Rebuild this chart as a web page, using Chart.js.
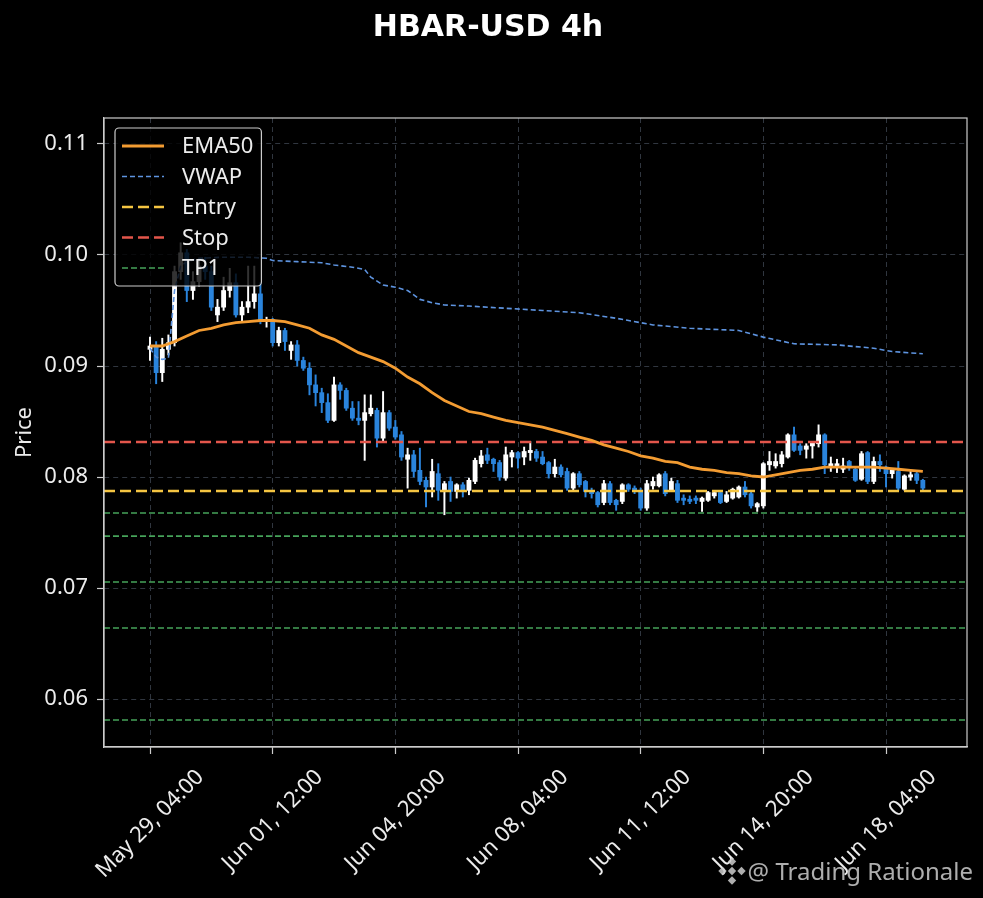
<!DOCTYPE html>
<html>
<head>
<meta charset="utf-8">
<title>HBAR-USD 4h</title>
<script src="https://cdn.jsdelivr.net/npm/chart.js@4.4.1/dist/chart.umd.min.js"></script>
<style>
  html, body { margin: 0; padding: 0; background: #000; }
  canvas { display: block; }
</style>
</head>
<body>
<canvas id="chart" width="983" height="898"></canvas>
<script>
// ================================
// HBAR-USD 4h candles + levels
// ================================

// x axis: candle index (4h steps, index 0 = May 29 04:00)
const xTickIdx = [0, 20, 40, 60, 80, 100, 120];
const xTickLabels = ["May 29, 04:00", "Jun 01, 12:00", "Jun 04, 20:00", "Jun 08, 04:00",
                     "Jun 11, 12:00", "Jun 14, 20:00", "Jun 18, 04:00"];
const yTicks = [0.06, 0.07, 0.08, 0.09, 0.10, 0.11];

// OHLC
const opens = [
  0.0915, 0.0918, 0.0894, 0.0915, 0.0921, 0.0985, 0.1002, 0.0968, 0.0976, 0.0990,
  0.0985, 0.0946, 0.0953, 0.0968, 0.0975, 0.0946, 0.0953, 0.0958, 0.0965, 0.0940,
  0.0942, 0.0921, 0.0932, 0.0914, 0.0919, 0.0905, 0.0898, 0.0883, 0.0876, 0.0867,
  0.0851, 0.0883, 0.0878, 0.0862, 0.0853, 0.0851, 0.0857, 0.0860, 0.0835, 0.0858,
  0.0845, 0.0838, 0.0816, 0.0820, 0.0806, 0.0797, 0.0791, 0.0803, 0.0787, 0.0796,
  0.0787, 0.0793, 0.0788, 0.0796, 0.0812, 0.0820, 0.0816, 0.0813, 0.0799, 0.0818,
  0.0822, 0.0818, 0.0822, 0.0823, 0.0818, 0.0813, 0.0803, 0.0809, 0.0805, 0.0790,
  0.0803, 0.0796, 0.0788, 0.0786, 0.0777, 0.0794, 0.0779, 0.0778, 0.0793, 0.0790,
  0.0788, 0.0772, 0.0792, 0.0792, 0.0803, 0.0788, 0.0794, 0.0781, 0.0780, 0.0781,
  0.0778, 0.0779, 0.0783, 0.0786, 0.0778, 0.0781, 0.0782, 0.0791, 0.0785, 0.0773,
  0.0774, 0.0811, 0.0810, 0.0812, 0.0818, 0.0838, 0.0828, 0.0825, 0.0828, 0.0830,
  0.0838, 0.0810, 0.0809, 0.0807, 0.0814, 0.0807, 0.0798, 0.0822, 0.0796, 0.0814,
  0.0809, 0.0803, 0.0805, 0.0789, 0.0800, 0.0803, 0.0797
];
const highs = [
  0.0926, 0.0922, 0.0925, 0.0928, 0.0990, 0.1011, 0.1005, 0.0985, 0.0996, 0.0998,
  0.0990, 0.0960, 0.0980, 0.0988, 0.0983, 0.0958, 0.0990, 0.0990, 0.0975, 0.0944,
  0.0943, 0.0935, 0.0934, 0.0922, 0.0923, 0.0908, 0.0903, 0.0892, 0.0880, 0.0875,
  0.0890, 0.0885, 0.0880, 0.0868, 0.0868, 0.0874, 0.0874, 0.0862, 0.0877, 0.0860,
  0.0851, 0.0841, 0.0826, 0.0824, 0.0826, 0.0800, 0.0816, 0.0812, 0.0796, 0.0800,
  0.0794, 0.0795, 0.0799, 0.0817, 0.0824, 0.0826, 0.0817, 0.0815, 0.0827, 0.0824,
  0.0823, 0.0827, 0.0832, 0.0825, 0.0823, 0.0814, 0.0816, 0.0811, 0.0808, 0.0804,
  0.0805, 0.0797, 0.0790, 0.0787, 0.0797, 0.0796, 0.0780, 0.0794, 0.0794, 0.0792,
  0.0790, 0.0797, 0.0800, 0.0803, 0.0805, 0.0799, 0.0797, 0.0784, 0.0783, 0.0783,
  0.0782, 0.0787, 0.0788, 0.0787, 0.0787, 0.0790, 0.0792, 0.0796, 0.0787, 0.0777,
  0.0813, 0.0823, 0.0821, 0.0823, 0.0839, 0.0845, 0.0830, 0.0830, 0.0832, 0.0847,
  0.0839, 0.0818, 0.0816, 0.0817, 0.0815, 0.0808, 0.0823, 0.0823, 0.0818, 0.0820,
  0.0810, 0.0806, 0.0814, 0.0802, 0.0805, 0.0805, 0.0798
];
const lows = [
  0.0905, 0.0884, 0.0886, 0.0910, 0.0918, 0.0978, 0.0958, 0.0960, 0.0972, 0.0978,
  0.0950, 0.0940, 0.0950, 0.0962, 0.0944, 0.0940, 0.0948, 0.0952, 0.0938, 0.0935,
  0.0918, 0.0918, 0.0914, 0.0906, 0.0900, 0.0896, 0.0874, 0.0864, 0.0858, 0.0849,
  0.0850, 0.0870, 0.0860, 0.0851, 0.0847, 0.0815, 0.0855, 0.0827, 0.0831, 0.0842,
  0.0834, 0.0815, 0.0790, 0.0800, 0.0793, 0.0773, 0.0782, 0.0779, 0.0766, 0.0778,
  0.0781, 0.0782, 0.0784, 0.0794, 0.0809, 0.0812, 0.0805, 0.0797, 0.0797, 0.0809,
  0.0808, 0.0811, 0.0815, 0.0814, 0.0811, 0.0799, 0.0800, 0.0800, 0.0788, 0.0787,
  0.0791, 0.0782, 0.0781, 0.0773, 0.0775, 0.0775, 0.0770, 0.0776, 0.0787, 0.0785,
  0.0770, 0.0770, 0.0789, 0.0791, 0.0783, 0.0787, 0.0777, 0.0775, 0.0776, 0.0776,
  0.0769, 0.0778, 0.0781, 0.0776, 0.0777, 0.0780, 0.0781, 0.0782, 0.0772, 0.0769,
  0.0772, 0.0806, 0.0808, 0.0809, 0.0817, 0.0823, 0.0820, 0.0817, 0.0817, 0.0827,
  0.0803, 0.0805, 0.0804, 0.0804, 0.0806, 0.0796, 0.0797, 0.0794, 0.0794, 0.0805,
  0.0791, 0.0799, 0.0788, 0.0788, 0.0797, 0.0794, 0.0788
];
const closes = [
  0.0918, 0.0894, 0.0915, 0.0921, 0.0985, 0.1002, 0.0968, 0.0976, 0.0990, 0.0985,
  0.0953, 0.0953, 0.0968, 0.0975, 0.0946, 0.0953, 0.0958, 0.0965, 0.0940, 0.0942,
  0.0921, 0.0932, 0.0922, 0.0919, 0.0905, 0.0898, 0.0883, 0.0876, 0.0867, 0.0851,
  0.0883, 0.0878, 0.0862, 0.0853, 0.0851, 0.0858, 0.0862, 0.0835, 0.0858, 0.0844,
  0.0836, 0.0818, 0.0820, 0.0805, 0.0796, 0.0791, 0.0805, 0.0788, 0.0794, 0.0787,
  0.0793, 0.0787, 0.0797, 0.0815, 0.0819, 0.0815, 0.0812, 0.0800, 0.0820, 0.0822,
  0.0817, 0.0823, 0.0824, 0.0817, 0.0812, 0.0803, 0.0809, 0.0802, 0.0790, 0.0803,
  0.0793, 0.0787, 0.0785, 0.0775, 0.0794, 0.0777, 0.0775, 0.0793, 0.0789, 0.0787,
  0.0772, 0.0794, 0.0796, 0.0802, 0.0785, 0.0796, 0.0779, 0.0779, 0.0778, 0.0779,
  0.0781, 0.0786, 0.0786, 0.0777, 0.0784, 0.0789, 0.0791, 0.0784, 0.0774, 0.0776,
  0.0812, 0.0814, 0.0814, 0.0820, 0.0838, 0.0824, 0.0824, 0.0828, 0.0831, 0.0838,
  0.0811, 0.0812, 0.0812, 0.0810, 0.0810, 0.0797, 0.0821, 0.0796, 0.0814, 0.0811,
  0.0803, 0.0806, 0.0790, 0.0801, 0.0802, 0.0797, 0.0790
];

// EMA50 read every second candle
const emaIdx = [
  0, 2, 4, 6, 8, 10, 12, 14, 16, 18, 20, 22, 24, 26, 28, 30, 32, 34, 36, 38,
  40, 42, 44, 46, 48, 50, 52, 54, 56, 58, 60, 62, 64, 66, 68, 70, 72, 74, 76, 78,
  80, 82, 84, 86, 88, 90, 92, 94, 96, 98, 100, 102, 104, 106, 108, 110, 112, 114, 116, 118,
  120, 122, 124, 126
];
const emaVal = [
  0.0918, 0.0918, 0.0922, 0.0927, 0.0932, 0.0934, 0.0937, 0.0939, 0.0940, 0.0941,
  0.0941, 0.0940, 0.0937, 0.0934, 0.0928, 0.0924, 0.0918, 0.0912, 0.0908, 0.0904,
  0.0898, 0.0890, 0.0884, 0.0876, 0.0869, 0.0864, 0.0859, 0.0857, 0.0854, 0.0851,
  0.0849, 0.0847, 0.0845, 0.0842, 0.0839, 0.0836, 0.0833, 0.0829, 0.0826, 0.0823,
  0.0819, 0.0817, 0.0814, 0.0813, 0.0809, 0.0807, 0.0806, 0.0804, 0.0803, 0.0801,
  0.0800, 0.0802, 0.0804, 0.0806, 0.0807, 0.0809, 0.0809, 0.0809, 0.0809, 0.0809,
  0.0808, 0.0807, 0.0806, 0.0805
];

// VWAP (stepped, read at its turns)
const vwapIdx = [0, 1, 2, 3, 4, 5, 6, 8, 12, 16, 19, 20, 24, 28, 30, 33, 35, 36, 38, 40,
                 42, 43, 44, 46, 48, 52, 58, 64, 70, 76, 82, 88, 96, 100, 105, 112, 118, 121, 126];
const vwapVal = [0.0916, 0.0908, 0.0906, 0.0907, 0.0968, 0.0990, 0.0994, 0.0997, 0.0998, 0.0998,
                 0.0997, 0.0995, 0.0994, 0.0993, 0.0991, 0.0989, 0.0987, 0.0980, 0.0973, 0.0971,
                 0.0968, 0.0964, 0.0960, 0.0957, 0.0955, 0.0954, 0.0952, 0.0950, 0.0948, 0.0943,
                 0.0937, 0.0934, 0.0932, 0.0926, 0.0920, 0.0919, 0.0916, 0.0913, 0.0911];

// trade levels
const entryLevel = 0.07874;
const stopLevel = 0.08315;
const tpLevels = [0.07676, 0.07468, 0.07054, 0.06640, 0.05811];

// axis limits
const X_MIN = -7.5, X_MAX = 133.2;
const Y_MIN = 0.05568, Y_MAX = 0.11234;

// colours
const UP = "#ffffff";
const DOWN = "#2a84dc";
const EMA_C = "#f39c32";
const VWAP_C = "#5e94e0";
const ENTRY_C = "#f5c542";
const STOP_C = "#e3564b";
const TP_C = "#46a35a";
const GRID = "#30363f";
const SPINE = "#cccccc";
const TEXT = "#ececec";
const TICK_SIZE = 22;

Chart.defaults.font.family = "'Noto Sans', sans-serif";

const candleColors = closes.map((c, i) => (c >= opens[i] ? UP : DOWN));
const wickData = lows.map((l, i) => ({ x: i, y: [l, highs[i]] }));
const bodyData = opens.map((o, i) => ({ x: i, y: [o, closes[i]] }));

function levelLine(label, value, color, width, dash, inLegend) {
  return {
    type: "line",
    label,
    data: [{ x: X_MIN, y: value }, { x: X_MAX, y: value }],
    borderColor: color,
    borderWidth: width,
    borderDash: dash,
    pointRadius: 0,
    fill: false,
    order: 1,
    inLegend
  };
}

const datasets = [
  {
    type: "line",
    label: "EMA50",
    data: emaIdx.map((v, k) => ({ x: v, y: emaVal[k] })),
    borderColor: EMA_C,
    borderWidth: 2.8,
    pointRadius: 0,
    fill: false,
    order: 0,
    inLegend: true
  },
  {
    type: "line",
    label: "VWAP",
    data: vwapIdx.map((v, k) => ({ x: v, y: vwapVal[k] })),
    borderColor: VWAP_C,
    borderWidth: 1.6,
    borderDash: [5, 3],
    pointRadius: 0,
    fill: false,
    order: 1,
    inLegend: true
  },
  levelLine("Entry", entryLevel, ENTRY_C, 2.6, [11, 5], true),
  levelLine("Stop", stopLevel, STOP_C, 2.6, [11, 5], true),
  ...tpLevels.map((v, k) => levelLine("TP" + (k + 1), v, TP_C, 1.6, [6, 3], k === 0)),
  {
    type: "bar",
    label: "wicks",
    data: wickData,
    backgroundColor: candleColors,
    barThickness: 1.3,
    grouped: false,
    order: 3,
    inLegend: false
  },
  {
    type: "bar",
    label: "bodies",
    data: bodyData,
    backgroundColor: candleColors,
    barThickness: 4.2,
    minBarLength: 1,
    grouped: false,
    order: 2,
    inLegend: false
  }
];

// black page behind everything
const background = {
  id: "background",
  beforeDraw(chart) {
    const { ctx, width, height } = chart;
    ctx.save();
    ctx.fillStyle = "#000";
    ctx.fillRect(0, 0, width, height);
    ctx.restore();
  }
};

// full box frame + rotated x labels centred on their ticks
const frameAndLabels = {
  id: "frameAndLabels",
  afterDraw(chart) {
    const { ctx, chartArea: a, scales: { x } } = chart;
    ctx.save();
    ctx.setLineDash([]);
    ctx.strokeStyle = SPINE;
    ctx.lineWidth = 1.2;
    ctx.strokeRect(a.left, a.top, a.right - a.left, a.bottom - a.top);

    ctx.font = `${TICK_SIZE}px 'Noto Sans'`;
    ctx.fillStyle = TEXT;
    ctx.textAlign = "center";
    ctx.textBaseline = "middle";
    x.ticks.forEach((t, k) => {
      const label = xTickLabels[k];
      const w = ctx.measureText(label).width;
      const half = (w + TICK_SIZE * 1.36) / (2 * Math.SQRT2);
      ctx.save();
      ctx.translate(x.getPixelForValue(t.value), a.bottom + 16 + half);
      ctx.rotate(-Math.PI / 4);
      ctx.fillText(label, 0, 0);
      ctx.restore();
    });
    ctx.restore();
  }
};

// framed legend in the upper left of the plot
const boxLegend = {
  id: "boxLegend",
  afterDraw(chart) {
    const { ctx, chartArea: a } = chart;
    const items = chart.data.datasets.filter(d => d.inLegend);
    ctx.save();
    ctx.font = `${TICK_SIZE}px 'Noto Sans'`;
    const textW = Math.max(...items.map(d => ctx.measureText(d.label).width));
    const left = a.left + 11, top = a.top + 10;
    const rowH = 30.5, pad = 18;
    const w = 67 + textW + 8;
    const h = pad * 2 + rowH * (items.length - 1);

    ctx.beginPath();
    ctx.roundRect(left, top, w, h, 4);
    ctx.fillStyle = "rgba(0,0,0,0.8)";
    ctx.fill();
    ctx.strokeStyle = SPINE;
    ctx.lineWidth = 1.2;
    ctx.stroke();

    items.forEach((d, k) => {
      const y = top + pad + k * rowH;
      ctx.beginPath();
      ctx.setLineDash(d.borderDash || []);
      ctx.strokeStyle = d.borderColor;
      ctx.lineWidth = d.borderWidth;
      ctx.moveTo(left + 7, y);
      ctx.lineTo(left + 49, y);
      ctx.stroke();
      ctx.setLineDash([]);
      ctx.fillStyle = TEXT;
      ctx.textAlign = "left";
      ctx.textBaseline = "middle";
      ctx.fillText(d.label, left + 67, y + 1);
    });
    ctx.restore();
  }
};

// watermark, bottom right
const watermark = {
  id: "watermark",
  afterDraw(chart) {
    const ctx = chart.ctx;
    ctx.save();
    ctx.fillStyle = "rgba(205,205,205,0.85)";
    ctx.font = "24px 'Noto Sans'";
    ctx.textAlign = "right";
    ctx.textBaseline = "alphabetic";
    ctx.fillText("@ Trading Rationale", 973, 880);

    const cx = 732, cy = 871;
    const diamond = (px, py, r) => {
      ctx.beginPath();
      ctx.moveTo(px, py - r);
      ctx.lineTo(px + r, py);
      ctx.lineTo(px, py + r);
      ctx.lineTo(px - r, py);
      ctx.closePath();
      ctx.fill();
    };
    diamond(cx, cy, 4.2);
    [[0, -9.5], [9.5, 0], [0, 9.5], [-9.5, 0]].forEach(([dx, dy]) => diamond(cx + dx, cy + dy, 4.2));
    ctx.restore();
  }
};

const gridOpts = {
  color: GRID,
  lineWidth: 1,
  offset: false,
  tickColor: SPINE,
  tickLength: 7,
  tickWidth: 1.2,
  tickBorderDash: []
};
const borderOpts = { color: SPINE, width: 1.2, dash: [5, 4] };

new Chart(document.getElementById("chart"), {
  type: "bar",
  data: { datasets },
  options: {
    responsive: false,
    devicePixelRatio: 1,
    animation: false,
    layout: { padding: { left: 9, right: 16, top: 0, bottom: 0 } },
    plugins: {
      legend: { display: false },
      tooltip: { enabled: false },
      title: {
        display: true,
        text: "HBAR-USD 4h",
        color: "#ffffff",
        font: { family: "'DejaVu Sans'", size: 30, weight: "bold" },
        padding: { top: 10, bottom: 72 }
      }
    },
    scales: {
      x: {
        type: "linear",
        min: X_MIN,
        max: X_MAX,
        offset: false,
        grid: gridOpts,
        border: borderOpts,
        ticks: { display: false },
        afterBuildTicks: ax => { ax.ticks = xTickIdx.map(v => ({ value: v })); },
        afterFit: ax => { ax.height = 151; }
      },
      y: {
        type: "linear",
        min: Y_MIN,
        max: Y_MAX,
        beginAtZero: false,
        grid: gridOpts,
        border: borderOpts,
        ticks: {
          color: TEXT,
          font: { size: TICK_SIZE },
          padding: 9,
          callback: v => v.toFixed(2)
        },
        title: {
          display: true,
          text: "Price",
          color: TEXT,
          font: { size: TICK_SIZE },
          padding: { top: 3, bottom: 0 }
        },
        afterBuildTicks: ax => { ax.ticks = yTicks.map(v => ({ value: v })); },
        afterFit: ax => { ax.width = 95; }
      }
    }
  },
  plugins: [background, frameAndLabels, boxLegend, watermark]
});
</script>
</body>
</html>
